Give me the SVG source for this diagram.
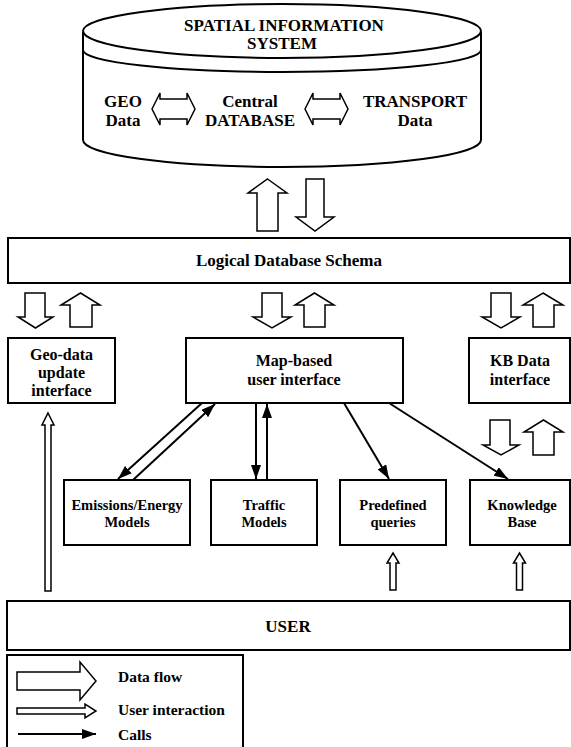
<svg xmlns="http://www.w3.org/2000/svg" width="571" height="747" viewBox="0 0 571 747">
<style>
.s{stroke:#000;stroke-width:2;fill:#fff}
.o{stroke:#000;stroke-width:1.5;fill:#fff;stroke-linejoin:miter}
.c{stroke:#000;stroke-width:2;fill:none}
text{font-family:"Liberation Serif","Times New Roman",serif;font-weight:bold;text-anchor:middle;fill:#000}
.t16{font-size:16px}
.t17{font-size:17px}
.t14{font-size:14.5px}
.lg{font-size:15.5px;text-anchor:start}
</style>
<defs>
<marker id="ah" markerUnits="userSpaceOnUse" markerWidth="14" markerHeight="10" refX="14" refY="5" orient="auto">
<path d="M0,0 L14,5 L0,10 z" fill="#000"/>
</marker>
</defs>
<rect width="571" height="747" fill="#fff"/>

<g id="sis">
<path class="s" d="M83,32 L83,140 A199,27 0 0 0 481,140 L481,32"/>
<ellipse class="s" cx="282" cy="31" rx="199" ry="27"/>
<path class="c" d="M83,50 A199,22 0 0 0 481,50"/>
<text class="t17" x="284" y="31">SPATIAL INFORMATION</text>
<text class="t17" x="282" y="49">SYSTEM</text>
<text class="t17" x="123" y="107">GEO</text>
<text class="t17" x="123" y="126">Data</text>
<text class="t17" x="250" y="107">Central</text>
<text class="t17" x="250" y="126">DATABASE</text>
<text class="t17" x="415" y="107">TRANSPORT</text>
<text class="t17" x="415" y="126">Data</text>
<polygon class="o" points="152,109 160,93 160,99 187,99 187,93 195,109 187,125 187,119 160,119 160,125"/>
<polygon class="o" points="305,109 313,93 313,99 340,99 340,93 348,109 340,125 340,119 313,119 313,125"/>
</g>

<g id="schema">
<rect class="s" x="8" y="238" width="562" height="45"/>
<text class="t17" x="289" y="266">Logical Database Schema</text>
</g>

<g id="geo">
<rect class="s" x="8" y="338" width="107" height="65"/>
<text class="t16" x="61.5" y="360">Geo-data</text>
<text class="t16" x="61.5" y="378">update</text>
<text class="t16" x="61.5" y="396">interface</text>
</g>

<g id="map">
<rect class="s" x="186" y="338" width="217" height="65"/>
<text class="t16" x="294" y="366">Map-based</text>
<text class="t16" x="294" y="385">user interface</text>
</g>

<g id="kbdata">
<rect class="s" x="469" y="338" width="101" height="65"/>
<text class="t16" x="520" y="366">KB Data</text>
<text class="t16" x="520" y="385">interface</text>
</g>

<g id="emissions">
<rect class="s" x="64" y="480" width="126" height="65"/>
<text class="t14" x="127" y="510">Emissions/Energy</text>
<text class="t14" x="127" y="527">Models</text>
</g>

<g id="traffic">
<rect class="s" x="211" y="480" width="106" height="65"/>
<text class="t14" x="264" y="510">Traffic</text>
<text class="t14" x="264" y="527">Models</text>
</g>

<g id="predefined">
<rect class="s" x="340" y="480" width="106" height="65"/>
<text class="t14" x="393" y="510">Predefined</text>
<text class="t14" x="393" y="527">queries</text>
</g>

<g id="kb">
<rect class="s" x="470" y="480" width="100" height="65"/>
<text class="t14" x="522" y="510">Knowledge</text>
<text class="t14" x="522" y="527">Base</text>
</g>

<g id="user">
<rect class="s" x="7" y="601" width="563" height="49"/>
<text class="t17" x="288" y="632">USER</text>
</g>

<g id="connectors">
<polygon class="o" points="267.5,179 287,193 278,193 278,231 257,231 257,193 248,193"/>
<polygon class="o" points="306,179 324,179 324,217 334,217 315,231 296,217 306,217"/>
<polygon class="o" points="25,293 45,293 45,317 53,317 35.5,328 18,317 25,317"/>
<polygon class="o" points="80.5,293 100,305 92,305 92,327 70,327 70,305 61,305"/>
<polygon class="o" points="262,293 282,293 282,317 291,317 272,328 253,317 262,317"/>
<polygon class="o" points="314.5,293 334,305 325,305 325,327 304,327 304,305 295,305"/>
<polygon class="o" points="491,293 511,293 511,317 520,317 501,328 482,317 491,317"/>
<polygon class="o" points="543,293 563,305 554,305 554,327 533,327 533,305 523,305"/>
<polygon class="o" points="490,420 510,420 510,445 519,445 501,455 483,445 490,445"/>
<polygon class="o" points="543.5,420 563,432 554,432 554,455 533,455 533,432 524,432"/>
<line class="c" x1="202" y1="403" x2="118" y2="479" marker-end="url(#ah)"/>
<line class="c" x1="133" y1="480" x2="215" y2="404" marker-end="url(#ah)"/>
<line class="c" x1="256" y1="403" x2="256" y2="479" marker-end="url(#ah)"/>
<line class="c" x1="267" y1="480" x2="267" y2="404" marker-end="url(#ah)"/>
<line class="c" x1="344" y1="403" x2="389" y2="479" marker-end="url(#ah)"/>
<line class="c" x1="389" y1="403" x2="508" y2="479" marker-end="url(#ah)"/>
<polygon class="o" points="48,413 54,425 51,425 51,591 45,591 45,425 42,425"/>
<polygon class="o" points="393,553 399,563 396,563 396,590 390,590 390,563 387,563"/>
<polygon class="o" points="519.5,553 525.5,563 522.5,563 522.5,590 516.5,590 516.5,563 513.5,563"/>
</g>

<g id="legend">
<rect class="s" x="7" y="655" width="236" height="110"/>
<polygon class="o" points="17,672 80,672 80,662 96,681 80,700 80,690 17,690"/>
<text class="lg" x="118" y="682">Data flow</text>
<polygon class="o" points="17,708 85,708 85,704 96,711 85,718 85,714 17,714"/>
<text class="lg" x="118" y="715">User interaction</text>
<line class="c" x1="18" y1="734" x2="96" y2="734" marker-end="url(#ah)"/>
<text class="lg" x="118" y="740">Calls</text>
</g>
</svg>
